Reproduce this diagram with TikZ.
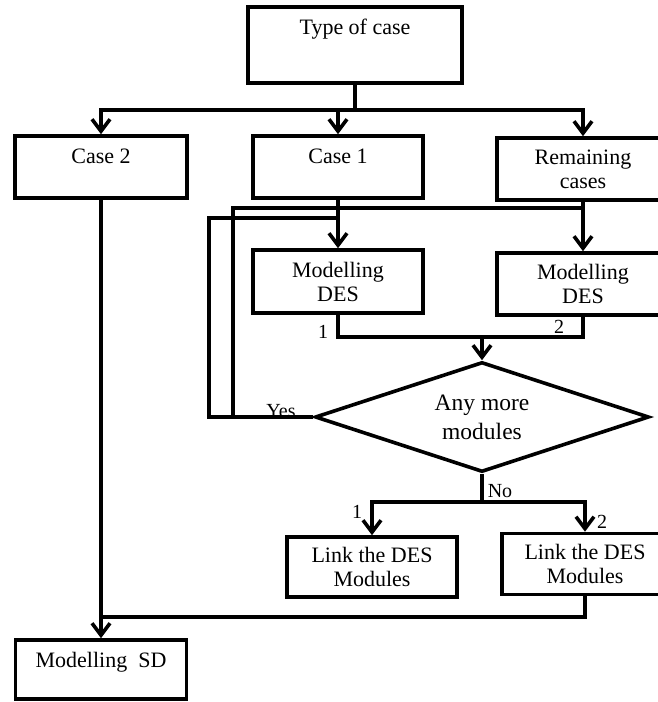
\documentclass[tikz,border=0pt]{standalone}
\usepackage{fontspec}
\setmainfont{Liberation Serif}
\usetikzlibrary{arrows.meta,shapes.geometric}
\begin{document}
\begin{tikzpicture}[x=1pt,y=-1pt,line width=3.6pt,
  box/.style={draw,rectangle,inner sep=0pt,align=center,font=\fontsize{22}{24}\selectfont},
  topbox/.style={box,text height=27pt},
  arr/.style={-{Straight Barb[length=12pt,width=18pt]}},
  lbl/.style={font=\fontsize{20}{21}\selectfont,inner sep=0pt}]
\useasboundingbox (0,0) rectangle (658,702);
\clip (0,0) rectangle (658,702);
% boxes
\node[topbox,minimum width=214pt,text depth=49pt] (type) at (355,45) {Type of case};
\node[topbox,minimum width=172pt,text depth=35pt] (case2) at (101,167) {Case 2};
\node[topbox,minimum width=170pt,text depth=35pt] (case1) at (338,167) {Case 1};
\node[box,minimum width=172pt,minimum height=62pt] (rem) at (583,169) {Remaining\\cases};
\node[box,minimum width=170pt,minimum height=63pt] (des1) at (338,281.5) {Modelling\\DES};
\node[box,minimum width=172pt,minimum height=62pt] (des2) at (583,284) {Modelling\\DES};
\node[draw,diamond,aspect=3,minimum width=334pt,minimum height=110pt,inner sep=0pt,align=center,font=\fontsize{23.5}{29}\selectfont] (dia) at (482,417) {Any more\\modules};
\node[box,minimum width=170pt,minimum height=60pt] (link1) at (372,567) {Link the DES\\Modules};
\node[box,minimum width=166pt,minimum height=61pt] (link2) at (585,564) {Link the DES\\Modules};
\node[topbox,minimum width=171pt,text depth=32pt] (sd) at (101,669.5) {Modelling\ \ SD};
% labels
\node[lbl,anchor=base] (yes) at (281,417) {Yes};
\node[lbl] (l1) at (323,332) {1};
\node[lbl] (l2) at (559,327) {2};
\node[lbl] (no) at (500,491) {No};
\node[lbl] (l3) at (357,512) {1};
\node[lbl] (l4) at (602,522) {2};
% junction coordinates
\coordinate (j1) at (355,110);
\coordinate (ya) at (209,417);
\coordinate (yb) at (233,417);
\coordinate (ta) at (209,218);
\coordinate (tb) at (233,208);
\coordinate (j2) at (482,337);
\coordinate (j3) at (482,502);
\coordinate (j4) at (101,617);
% connectors
\draw (type.south) -- (j1);
\draw[arr] (j1) -| (case2.north);
\draw[arr] (j1) -| (rem.north);
\draw[arr] (case1.north |- j1) -- (case1.north);
\draw[arr] (case2.south) -- (sd.north);
\draw[arr] (case1.south) -- (des1.north);
\draw[arr] (rem.south) -- (des2.north);
\draw (dia.west) -- (ya) -- (ta) -- (ta -| case1.south);
\draw (yb) -- (tb) -- (tb -| rem.south);
\draw (des1.south) |- (j2) -| (des2.south);
\draw[arr] (j2) -- (dia.north);
\draw (dia.south) -- (j3);
\draw[arr] (j3) -| (link1.north);
\draw[arr] (j3) -| (link2.north);
\draw (link2.south) |- (j4);
\end{tikzpicture}
\end{document}
